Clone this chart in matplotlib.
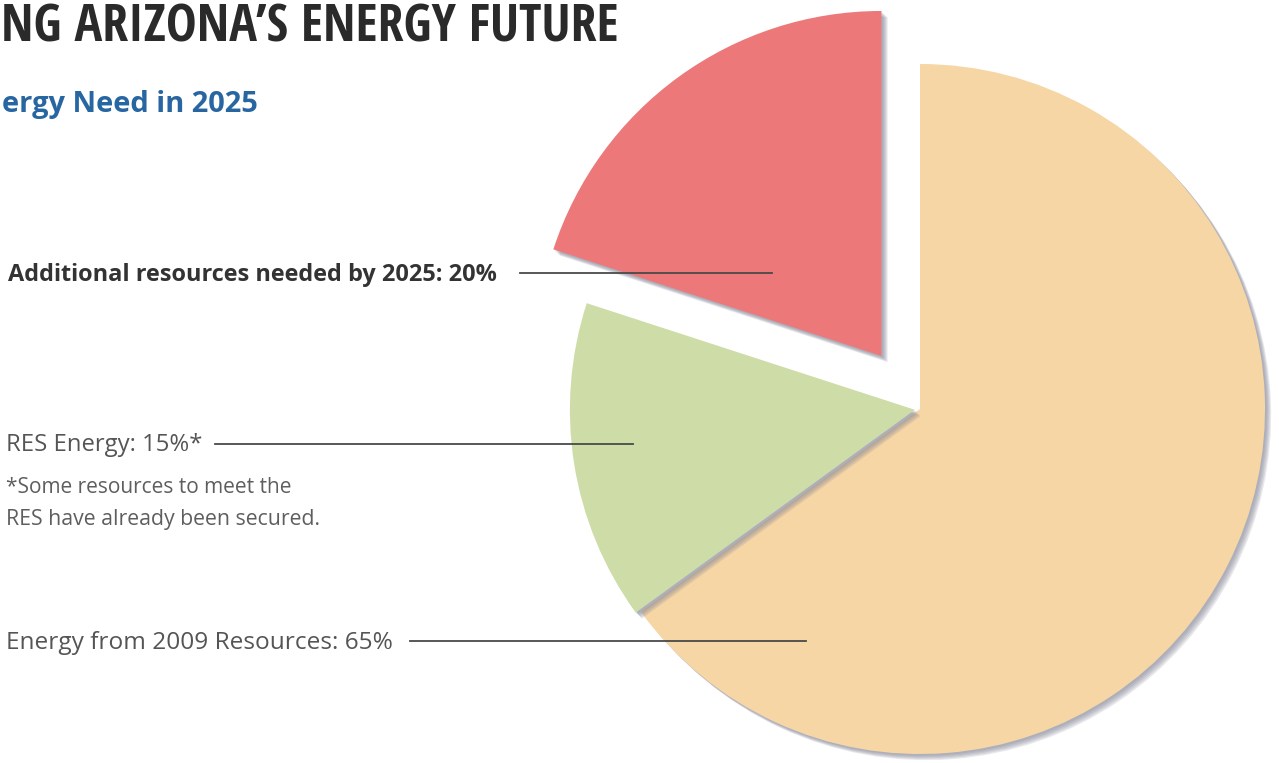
import matplotlib
matplotlib.use("Agg")
import matplotlib.pyplot as plt
import matplotlib.patheffects as pe
from matplotlib import font_manager as fm
from matplotlib.lines import Line2D
from matplotlib.textpath import TextPath
from matplotlib.ft2font import FT2Font

# ---------------- data ----------------
categories = ["Energy from 2009 Resources", "RES Energy", "Additional resources needed by 2025"]
shares = [65, 15, 20]
label_suffix = ["", "*", ""]
slice_colors = ["#f7d6a5", "#cedca8", "#ec787a"]
explode = [0.0, 0.015, 0.19]

title_text = "NG ARIZONA\u2019S ENERGY FUTURE"
subtitle_text = "ergy Need in 2025"
footnote_lines = ["*Some resources to meet the", "RES have already been secured."]

# ---------------- layout ----------------
W, H, DPI = 1279, 763, 100
cx, cy, R = 920, 409, 345          # pie centre / radius in pixels

SANS_FAMILIES = ("dejavu sans", "liberation sans", "noto sans", "roboto", "open sans", "lato", "inter")


def have(name):
    try:
        fm.findfont(fm.FontProperties(family=name), fallback_to_default=False)
        return True
    except Exception:
        return False


def _weight(f):
    if isinstance(f.weight, int):
        return f.weight
    return {"bold": 700, "heavy": 800, "black": 900, "semibold": 600, "demibold": 600,
            "extra bold": 800}.get(str(f.weight).lower(), 400)


def narrow_bold(text):
    """Pick the narrowest bold face of the plain sans families that has every glyph."""
    best = None
    needed = {ord(c) for c in text if c != " "}
    for f in fm.fontManager.ttflist:
        fam = f.name.lower()
        if not fam.startswith(SANS_FAMILIES):
            continue
        name = (fam + " " + str(f.fname)).lower()
        if f.style != "normal" or "italic" in name or "oblique" in name:
            continue
        if _weight(f) < 600 or "cjk" in name or "mono" in name:
            continue
        try:
            cmap = FT2Font(f.fname).get_charmap()
            if not needed.issubset(set(cmap.keys())):
                continue
            fp = fm.FontProperties(fname=f.fname, size=10)
            ext = TextPath((0, 0), text, prop=fp).get_extents()
            ratio = ext.width / max(ext.height, 1e-6)
        except Exception:
            continue
        if best is None or ratio < best[0]:
            best = (ratio, f.fname)
    return best[1] if best else None


title_font_file = narrow_bold(title_text)
label_family = [f for f in ["Open Sans", "DejaVu Sans"] if have(f)]

fig = plt.figure(figsize=(W / DPI, H / DPI), dpi=DPI)
fig.patch.set_facecolor("white")
ax = fig.add_axes([0, 0, 1, 1])

wedges, _ = ax.pie(shares, colors=slice_colors, explode=explode, startangle=90,
                   counterclock=False, radius=1.0,
                   wedgeprops=dict(linewidth=0, antialiased=True))
shadow_fx = [pe.SimplePatchShadow(offset=(k, -k), shadow_rgbFace=(0.50, 0.51, 0.58), alpha=0.18)
             for k in (1.2, 2.0, 2.8, 3.6, 4.4)]
for w in wedges:
    w.set_path_effects(shadow_fx + [pe.Normal()])

ax.set_xlim(-cx / R, (W - cx) / R)
ax.set_ylim(-(H - cy) / R, cy / R)
ax.set_aspect("equal", adjustable="datalim")
ax.axis("off")

renderer = fig.canvas.get_renderer()


def px(x, y):
    return x / W, 1 - y / H


def fit_text(x, y_base, s, target_w, color, size0=20, weight="normal", family=None, fname=None):
    if fname is not None:
        fp = fm.FontProperties(fname=fname, size=size0)
    else:
        fp = fm.FontProperties(family=family, weight=weight, size=size0)
    t = fig.text(*px(x, y_base), s, fontproperties=fp, color=color, ha="left", va="baseline")
    wpx = t.get_window_extent(renderer).width
    t.set_fontsize(size0 * target_w / wpx)
    return t


# title and subtitle (cut off at the left edge in the original)
if title_font_file:
    fit_text(1, 41, title_text, 617, "#2a2a2a", 36, fname=title_font_file)
else:
    fit_text(1, 41, title_text, 617, "#2a2a2a", 36, weight="bold", family=["DejaVu Sans"])
fit_text(2, 112, subtitle_text, 256, "#2866a2", 18, weight="bold", family=label_family)

# labels with leader lines
label_texts = [f"{c}: {v}%{s}" for c, v, s in zip(categories, shares, label_suffix)]
label_spec = [  # (x, baseline, width, weight, colour, line y, line x0, line x1)
    (6, 649, 385, "normal", "#555555", 641, 410, 806),
    (6, 451, 196, "normal", "#555555", 444, 215, 633),
    (8, 281, 489, "bold", "#333333", 273, 520, 772),
]
for txt, (x, yb, tw, wt, col, ly, lx0, lx1) in zip(label_texts, label_spec):
    fit_text(x, yb, txt, tw, col, 15, weight=wt, family=label_family)
    fig.add_artist(Line2D([lx0 / W, lx1 / W], [1 - ly / H, 1 - ly / H],
                          transform=fig.transFigure, color="#4a4a4a", lw=1.3))

fit_text(6, 493, footnote_lines[0], 284, "#5e5e5e", 12, family=label_family)
fit_text(6, 525, footnote_lines[1], 312, "#5e5e5e", 12, family=label_family)

fig.savefig("out.png", dpi=DPI, facecolor="white")
